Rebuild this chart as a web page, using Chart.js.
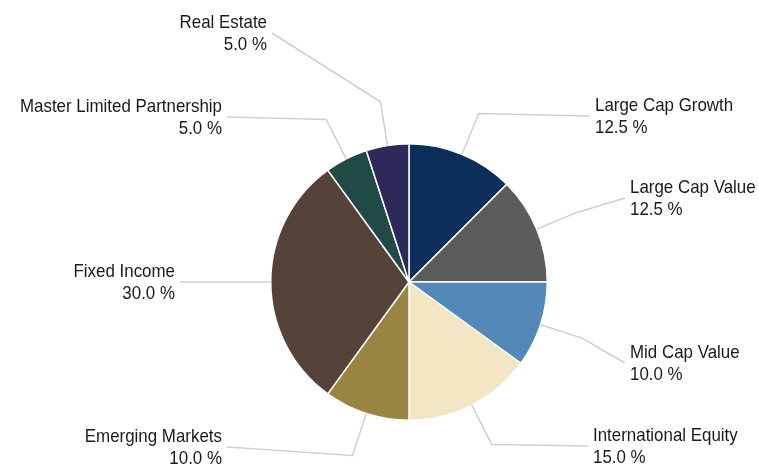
<!DOCTYPE html>
<html>
<head>
<meta charset="utf-8">
<script src="https://cdn.jsdelivr.net/npm/chart.js@4/dist/chart.umd.min.js"></script>
<style>
  html, body { margin: 0; padding: 0; background: #ffffff; }
  #wrap { width: 759px; height: 466px; position: relative; }
</style>
</head>
<body>
<div id="wrap"><canvas id="c"></canvas></div>
<script>
// ---- data ----
const categories = [
  "Large Cap Growth",
  "Large Cap Value",
  "Mid Cap Value",
  "International Equity",
  "Emerging Markets",
  "Fixed Income",
  "Master Limited Partnership",
  "Real Estate"
];
const allocations = [12.5, 12.5, 10.0, 15.0, 10.0, 30.0, 5.0, 5.0];

// ---- styles / layout ----
const sliceColors = [
  "#0b2e5b", "#5b5d5a", "#5289b8", "#f2e6c4",
  "#998442", "#574239", "#214a47", "#2d295b"
];
// label anchor offsets from the pie centre (px), and text side
const labelAnchors = [
  [181, -166], [216, -84], [216, 81], [179, 164],
  [-182, 165], [-229, 0], [-182, -165], [-137, -249]
];

const leaderPlugin = {
  id: "leaders",
  afterDatasetsDraw(chart) {
    const ctx = chart.ctx;
    const meta = chart.getDatasetMeta(0);
    meta.data.forEach((arc, i) => {
      const p = arc.getProps(["x", "y", "startAngle", "endAngle", "outerRadius"], true);
      const mid = (p.startAngle + p.endAngle) / 2;
      const R = p.outerRadius;
      const ex = p.x + Math.cos(mid) * R, ey = p.y + Math.sin(mid) * R;
      const bx = p.x + Math.cos(mid) * R * 1.32, by = p.y + Math.sin(mid) * R * 1.32;
      const ax = p.x + labelAnchors[i][0], ay = p.y + labelAnchors[i][1];
      ctx.save();
      ctx.strokeStyle = "#cfcfcf";
      ctx.lineWidth = 1.5;
      ctx.beginPath();
      ctx.moveTo(ex, ey);
      ctx.lineTo(bx, by);
      ctx.lineTo(ax, ay);
      ctx.stroke();

      const right = labelAnchors[i][0] > 0;
      const tx = right ? ax + 5 : ax - 5;
      ctx.fillStyle = "#1a1a1a";
      ctx.font = '19px "Liberation Sans", Arial, sans-serif';
      ctx.textBaseline = "alphabetic";
      ctx.textAlign = right ? "left" : "right";
      const lines = [categories[i], allocations[i].toFixed(1) + " %"];
      lines.forEach((t, k) => {
        ctx.save();
        ctx.translate(tx, ay - 5.3 + k * 22);
        ctx.scale(0.89, 1);
        ctx.fillText(t, 0, 0);
        ctx.restore();
      });
      ctx.restore();
    });
  }
};

new Chart(document.getElementById("c"), {
  type: "pie",
  data: {
    labels: categories,
    datasets: [{
      data: allocations,
      backgroundColor: sliceColors,
      borderColor: "#ffffff",
      borderWidth: 1.5,
      hoverOffset: 0
    }]
  },
  options: {
    responsive: true,
    maintainAspectRatio: false,
    animation: false,
    events: [],
    layout: { padding: { top: 143, bottom: 45, left: 200, right: 141 } },
    plugins: {
      legend: { display: false },
      tooltip: { enabled: false }
    }
  },
  plugins: [leaderPlugin]
});
</script>
</body>
</html>
